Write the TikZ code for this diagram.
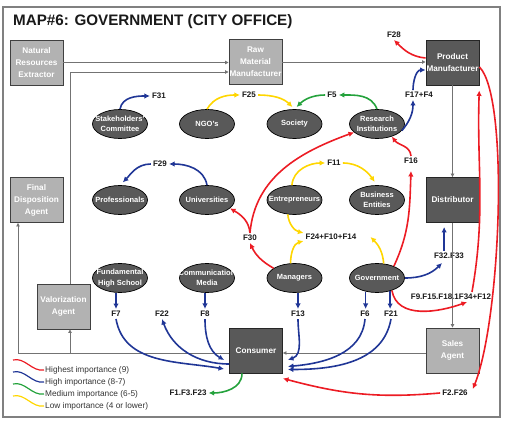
\documentclass[tikz,border=0pt]{standalone}
\usepackage{fontspec}
\setmainfont{Liberation Sans}
\usetikzlibrary{arrows.meta}
\usetikzlibrary{shapes.geometric}
\tikzset{>=latex}
\definecolor{imp9}{RGB}{236,28,36}
\definecolor{imp8}{RGB}{32,54,150}
\definecolor{imp6}{RGB}{36,162,60}
\definecolor{imp4}{RGB}{255,214,0}
\colorlet{boxlight}{black!30}
\colorlet{boxdark}{black!65}
\colorlet{framecol}{black!50}
\tikzstyle{agent}=[draw=black!75,line width=0.9,fill=boxlight,text=white,align=center,
                   font=\fontsize{8.2}{12}\selectfont\bfseries,minimum width=53,minimum height=45,inner sep=0]
\tikzstyle{keyagent}=[agent,fill=boxdark,draw=black!85]
\tikzstyle{actor}=[ellipse,draw=black,line width=0.7,fill=boxdark,text=white,align=center,
                   font=\fontsize{7.5}{10.5}\selectfont\bfseries,minimum width=55,minimum height=29,
                   inner xsep=-30,inner ysep=-15]
\tikzstyle{flabel}=[font=\fontsize{8}{9}\selectfont\bfseries,text=black!90,inner sep=2]
\tikzstyle{flow}=[draw=black!55,line width=0.8,-{Triangle[length=3.5,width=3.5]}]
\tikzset{
  rel/.style={line width=1.6,-{Latex[length=5.5,width=5.5]}},
  top rel/.style={rel,imp9},
  high rel/.style={rel,imp8},
  mid rel/.style={rel,imp6},
  low rel/.style={rel,imp4}}

\begin{document}
\begin{tikzpicture}[x=1pt,y=1pt]
  \def\rowA{299}
  \def\rowB{223}
  \def\rowC{145}
  \def\colA{120}
  \def\colB{207}
  \def\colC{294.5}
  \def\colD{377}
  \useasboundingbox (0,0) rectangle (507,423);
  \draw[framecol,line width=1.5] (3,6) rectangle (500,416);
  \node[anchor=west,inner sep=0,font=\fontsize{15.2}{17}\selectfont\bfseries,text=black!90] (title) at (13,401)
    {MAP\#6: GOVERNMENT (CITY OFFICE)};

  % AGENTS
  \node[agent] (nre) at (36.5,360.5) {Natural\\Resources\\Extractor};
  \node[agent] (rmm) at (255.5,361) {Raw\\Material\\Manufacturer};
  \node[keyagent] (pm) at (452.5,360.5) {Product\\Manufacturer};
  \node[keyagent] (dist) at (452.5,223) {Distributor};
  \node[agent] (sales) at (452.5,72.5) {Sales\\Agent};
  \node[agent] (fda) at (36.5,223) {Final\\Disposition\\Agent};
  \node[agent] (val) at (63.5,116.5) {Valorization\\Agent};
  \node[keyagent] (cons) at (256,72.5) {Consumer};

  % ACTORS
  \node[actor] (stake) at (\colA,\rowA) {Stakeholders'\\Committee};
  \node[actor] (ngo) at (\colB,\rowA) {NGO's};
  \node[actor] (soc) at (\colC,\rowA) {Society};
  \node[actor] (res) at (\colD,\rowA) {Research\\Institutions};
  \node[actor] (prof) at (\colA,\rowB) {Professionals};
  \node[actor] (univ) at (\colB,\rowB) {Universities};
  \node[actor] (entr) at (\colC,\rowB) {Entrepreneurs};
  \node[actor] (bus) at (\colD,\rowB) {Business\\Entities};
  \node[actor] (fhs) at (\colA,\rowC) {Fundamental\\High School};
  \node[actor] (comm) at (\colB,\rowC) {Communication\\Media};
  \node[actor] (man) at (\colC,\rowC) {Managers};
  \node[actor] (gov) at (\colD,\rowC) {Government};

  % FACTORS
  \node[flabel] (f31) at (159,327) {F31};
  \node[flabel] (f25) at (249,328) {F25};
  \node[flabel] (f5) at (332,328) {F5};
  \node[flabel] (f17) at (419,328) {F17+F4};
  \node[flabel] (f28) at (394,388) {F28};
  \node[flabel] (f29) at (160,259) {F29};
  \node[flabel] (f30) at (250,185) {F30};
  \node[flabel] (f11) at (334,260) {F11};
  \node[flabel] (f24) at (331,186) {F24+F10+F14};
  \node[flabel] (f16) at (411,262) {F16};
  \node[flabel] (f32) at (449,167) {F32.F33};
  \node[flabel] (f9) at (451,126) {F9.F15.F18.1F34+F12};
  \node[flabel] (f2) at (455,30) {F2.F26};
  \node[flabel] (f7) at (116,109) {F7};
  \node[flabel] (f22) at (162,109) {F22};
  \node[flabel] (f8) at (205,109) {F8};
  \node[flabel] (f13) at (298,109) {F13};
  \node[flabel] (f6) at (365,109) {F6};
  \node[flabel] (f21) at (391,109) {F21};
  \node[flabel] (f1) at (188,30) {F1.F3.F23};

  % MATERIAL FLOW
  \coordinate (back) at ([yshift=-2.5]cons.west);
  \draw[flow] (nre.east) -- (rmm.west |- nre.east);
  \draw[flow] (rmm.east) -- (pm.west |- rmm.east);
  \draw[flow] (pm) -- (dist);
  \draw[flow] (dist) -- (sales);
  \draw[flow] ([yshift=-2.5]sales.west) -- ([yshift=-2.5]cons.east);
  \draw[flow] (back) -| ([xshift=-18.5]fda.south);
  \draw[flow] ([xshift=6.5]val.south |- back) -- ([xshift=6.5]val.south);
  \draw[flow] ([xshift=6.5]val.north) |- ([yshift=-10]rmm.west);

  % TOP ROW
  \draw[high rel] (stake.north) to[out=80,in=180] (f31.west);
  \draw[low rel] (ngo.north) to[out=60,in=180] (f25.west);
  \draw[low rel,shorten >=3] (f25.east) to[out=0,in=135] (soc.north);
  \draw[mid rel] (res.north) to[out=110,in=0] (f5.east);
  \draw[mid rel,shorten >=3] (f5.west) to[out=180,in=45] (soc.north);
  \draw[high rel] (res.-15) to[out=50,in=-90] ([xshift=-6]f17.south);
  \draw[high rel] ([xshift=-6]f17.north) to[out=90,in=180] ([yshift=-7.5]pm.west);
  \draw[top rel] ([yshift=4.5]pm.west) to[out=175,in=-45] (f28.south);

  % MIDDLE ROW
  \draw[high rel] (univ.north) to[out=100,in=0] (f29.east);
  \draw[high rel,shorten >=4] (f29.west) to[out=180,in=45] (prof.north);
  \draw[top rel] (man.155) to[out=150,in=-65] (f30.south);
  \draw[top rel] (f30.north) to[out=95,in=-30] (univ.-20);
  \draw[top rel] (f30.north) to[out=85,in=200] (res.200);
  \draw[low rel] (entr.100) to[out=85,in=180] (f11.west);
  \draw[low rel,shorten >=4] (f11.east) to[out=0,in=125] (bus.north);
  \draw[low rel] (entr.245) to[out=-85,in=165] ([yshift=4]f24.west);
  \draw[low rel] (man.105) to[out=90,in=195] ([yshift=-4]f24.west);
  \draw[low rel] (gov.65) to[out=95,in=-45] ([xshift=12]f24.east);
  \draw[top rel] (gov.35) to[out=65,in=-92] ([yshift=-5]f16.south);
  \draw[top rel] (f16.north) to[out=95,in=-55] (res.-40);

  % SUPPLY SIDE
  \draw[high rel] (gov.east) to[out=0,in=-135] ([xshift=-7,yshift=-2]f32.south);
  \draw[high rel,shorten >=4] (f32.north -| dist.250) -- (dist.250);
  \draw[top rel] (gov.-40) to[out=-80,in=200] ([xshift=16]f9.south);
  \draw[top rel,shorten >=5] ([xshift=21]f9.north) to[out=80,in=-92] (pm.south east);
  \draw[top rel] ([yshift=-4.5]pm.east) .. controls +(30,-30) and +(28,70) .. ([xshift=3,yshift=4]f2.east);
  \draw[top rel] (f2.west) to[out=185,in=-15] ([yshift=-5]cons.south east);

  % BOTTOM ROW
  \draw[high rel] (f7.north |- fhs.south) -- (f7.north);
  \draw[high rel] (f8.north |- comm.south) -- (f8.north);
  \draw[high rel] (f13.north |- man.south) -- (f13.north);
  \draw[high rel] (gov.230) -- (gov.230 |- f6.north);
  \draw[high rel] (gov.-45) -- (gov.-45 |- f21.north);
  \draw[high rel] (f7.south) to[out=-80,in=170] ([xshift=-5,yshift=-18.5]cons.west);
  \draw[high rel] ([yshift=-13.5]cons.west) to[out=180,in=-70] (f22.south);
  \draw[high rel] (f8.south) to[out=-90,in=150] ([xshift=-5,yshift=-9.5]cons.west);
  \draw[high rel] (f13.south) to[out=-90,in=20] ([xshift=5,yshift=-9.5]cons.east);
  \draw[high rel] (f6.south) to[out=-95,in=5] ([xshift=5,yshift=-16]cons.east);
  \draw[high rel] (f21.south) to[out=-100,in=0] ([xshift=5,yshift=-19]cons.east);
  \draw[mid rel] ([xshift=-14]cons.south) to[out=-90,in=0] (f1.east);

  % LEGEND
  \foreach \col/\txt [count=\i] in {imp9/Highest importance (9),imp8/High importance (8-7),
                                    imp6/Medium importance (6-5),imp4/Low importance (4 or lower)}{
    \node[anchor=west,inner sep=1,font=\fontsize{8.3}{9}\selectfont,text=black!80] (key\i) at (44,{65-12*\i}) {\txt};
    \draw[\col,line width=1.2] (13,{75-12*\i}) .. controls +(12,3) and +(-12,-2) .. (key\i.west);
  }
\end{tikzpicture}
\end{document}
